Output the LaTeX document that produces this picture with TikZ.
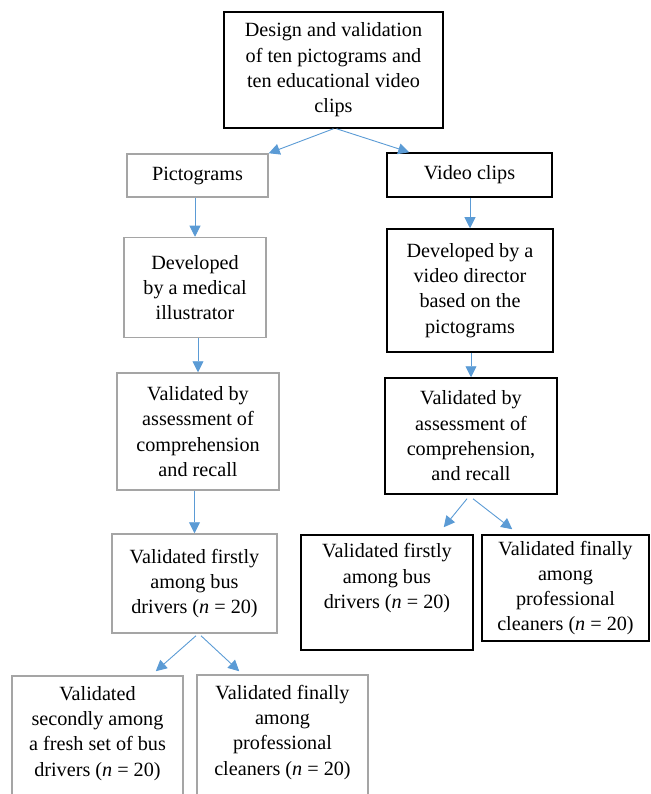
\documentclass[tikz,border=0pt]{standalone}
\usepackage{fontspec}
\setmainfont{Liberation Serif}
\usetikzlibrary{arrows.meta}
\definecolor{arrowblue}{RGB}{91,155,213}
\definecolor{framegray}{RGB}{165,165,165}

\begin{document}
\begin{tikzpicture}[x=1pt,y=-1pt,
  box/.style={draw,line width=1.5pt,align=center,inner sep=0pt,font=\fontsize{20.2}{25.3}\selectfont},
  greybox/.style={box,draw=framegray},
  blackbox/.style={box,draw=black},
  link/.style={draw=arrowblue,line width=0.9pt,-{Triangle[length=11pt,width=11pt]}}]
\useasboundingbox (0,0) rectangle (650,794);
\clip (0,0) rectangle (650,794);

% top
\node[blackbox,minimum width=219pt,minimum height=116pt] (top) at (333.5,70)
  {Design and validation\\of ten pictograms and\\ten educational video\\clips};

% pictogram branch
\node[greybox,minimum width=141pt,minimum height=43pt] (picto) at (197.5,175.5) {Pictograms};
\node[greybox,minimum width=142pt,minimum height=100pt] (devP) at (195,287.5)
  {Developed\\by a medical\\illustrator};
\node[greybox,minimum width=162pt,minimum height=117pt] (valP) at (198,431.5)
  {Validated by\\assessment of\\comprehension\\and recall};
\node[greybox,minimum width=165pt,minimum height=99pt] (firstP) at (194.5,583.5)
  {Validated firstly\\among bus\\drivers (\textit{n} = 20)};
\node[greybox,minimum width=171pt,minimum height=143pt] (secondP) at (97.5,747.5)
  {Validated\\secondly among\\a fresh set of bus\\drivers (\textit{n} = 20)\\ \strut};
\node[greybox,minimum width=171pt,minimum height=143pt] (finalP) at (282.5,746.5)
  {Validated finally\\among\\professional\\cleaners (\textit{n} = 20)\\ \strut};

% video branch
\node[blackbox,minimum width=165pt,minimum height=44pt] (video) at (469.5,175) {Video clips};
\node[blackbox,minimum width=166pt,minimum height=123pt] (devV) at (470,290.5)
  {Developed by a\\video director\\based on the\\pictograms};
\node[blackbox,minimum width=172pt,minimum height=116pt] (valV) at (471,436)
  {Validated by\\assessment of\\comprehension,\\and recall};
\node[blackbox,minimum width=172pt,minimum height=115pt] (firstV) at (387,592.5)
  {Validated firstly\\among bus\\drivers (\textit{n} = 20)\\ \strut};
\node[blackbox,minimum width=167pt,minimum height=106pt] (finalV) at (565.5,588)
  {Validated finally\\among\\professional\\cleaners (\textit{n} = 20)};

% connectors
\draw[link] (top.south) -- (picto.north east);
\draw[link] ([xshift=3pt]top.south) -- ([xshift=23pt]video.north west);
\draw[link] (devP.north |- picto.south) -- (devP.north);
\draw[link] (valP.north |- devP.south) -- (valP.north);
\draw[link] (firstP.north |- valP.south) -- (firstP.north);
\draw[link] ([xshift=1.5pt,yshift=-2pt]firstP.south) -- ([xshift=-28pt,yshift=4pt]secondP.north east);
\draw[link] ([xshift=6.5pt,yshift=-2pt]firstP.south) -- ([xshift=43pt,yshift=3pt]finalP.north west);
\draw[link] (devV.north |- video.south) -- (devV.north);
\draw[link] (valV.north |- devV.south) -- (valV.north);
\draw[link] ([xshift=-4pt,yshift=-4pt]valV.south) -- ([xshift=-30pt,yshift=7pt]firstV.north east);
\draw[link] ([xshift=2pt,yshift=-4pt]valV.south) -- ([xshift=31pt,yshift=5pt]finalV.north west);
\end{tikzpicture}
\end{document}
